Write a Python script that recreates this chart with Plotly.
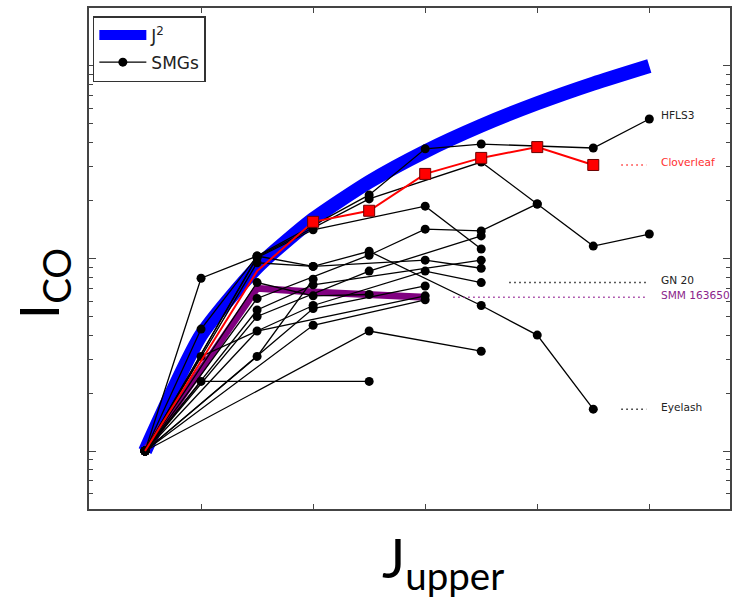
import math
import plotly.graph_objects as go

# Thermal J^2 reference curve (I_CO normalised to CO(1-0))
J_model = [1, 2, 3, 4, 5, 6, 7, 8, 9, 10]
I_model = [1, 4, 9, 16, 25, 36, 49, 64, 81, 100]

# Named sources
hfls3_J = [1, 2, 3, 5, 6, 7, 9, 10]
hfls3_I = [1.0, 4.3, 10.3, 21.4, 37.1, 39.3, 37.5, 53.0]
clover_J = [1, 3, 4, 5, 6, 7, 8, 9]
clover_I = [1.0, 8.6, 15.5, 17.7, 27.5, 33.3, 37.9, 30.6]
clover_marker = [False, False, True, True, True, True, True, True]
smm_J = [1, 3, 4, 5, 6]
smm_I = [1.0, 7.0, 6.7, 6.5, 6.3]
gn20_J = [1, 2, 4, 6, 7]
gn20_I = [1.0, 3.1, 5.7, 8.6, 7.5]
eyelash_J = [1, 3, 4, 5, 7, 8, 9]
eyelash_I = [1.0, 9.5, 9.1, 10.9, 5.7, 4.0, 1.65]

# Other SMGs
smg_a_J = [1, 3, 5, 7, 8, 9, 10]
smg_a_I = [1.0, 10.2, 20.4, 31.7, 19.2, 11.6, 13.4]
smg_b_J = [1, 2, 5]
smg_b_I = [1.0, 2.3, 2.3]
smg_c_J = [1, 5, 7]
smg_c_I = [1.0, 4.2, 3.3]
smg_d_J = [1, 2, 3, 4, 6, 7]
smg_d_I = [1.0, 7.9, 10.3, 9.1, 9.8, 8.9]
smg_e_J = [1, 3, 5, 6, 7, 8]
smg_e_I = [1.0, 6.2, 10.4, 14.2, 13.9, 19.2]
smg_f_J = [1, 4, 6]
smg_f_I = [1.0, 4.5, 6.1]
smg_g_J = [1, 3, 4, 7]
smg_g_I = [1.0, 5.4, 7.3, 9.8]
smg_h_J = [1, 3, 5, 7]
smg_h_I = [1.0, 5.0, 8.6, 13.1]
smg_i_J = [1, 4, 6]
smg_i_I = [1.0, 5.5, 7.2]
smg_j_J = [1, 3, 6]
smg_j_I = [1.0, 4.2, 6.4]
smg_k_J = [1, 3, 4]
smg_k_I = [1.0, 3.1, 7.8]
smg_l_J = [1, 3, 4, 5]
smg_l_I = [1.0, 7.5, 6.4, 6.5]
smg_m_J = [1, 3, 4, 6, 7]
smg_m_I = [1.0, 10.1, 14.1, 18.7, 11.2]

x_ticks = [2, 4, 6, 8, 10]
y_major = [1, 10, 100]
y_minor = [0.6, 0.7, 0.8, 0.9, 2, 3, 4, 5, 6, 7, 8, 9,
           20, 30, 40, 50, 60, 70, 80, 90]

fig = go.Figure()

# J^2 band
fig.add_trace(go.Scatter(
    x=J_model, y=I_model, mode="lines", name="J<sup>2</sup>",
    line=dict(color="#0000ff", width=14, shape="spline", smoothing=0.6),
    legendgroup="model", hoverinfo="skip"))

# SMM 163650 (thick purple, no markers)
fig.add_trace(go.Scatter(
    x=smm_J, y=smm_I, mode="lines", showlegend=False,
    line=dict(color="#800080", width=7)))

black_series = [
    (hfls3_J, hfls3_I), (smg_a_J, smg_a_I), (gn20_J, gn20_I),
    (eyelash_J, eyelash_I), (smg_b_J, smg_b_I), (smg_c_J, smg_c_I),
    (smg_d_J, smg_d_I), (smg_e_J, smg_e_I), (smg_f_J, smg_f_I),
    (smg_g_J, smg_g_I), (smg_h_J, smg_h_I), (smg_i_J, smg_i_I),
    (smg_j_J, smg_j_I), (smg_k_J, smg_k_I), (smg_l_J, smg_l_I),
    (smg_m_J, smg_m_I),
]
for i, (jx, iy) in enumerate(black_series):
    fig.add_trace(go.Scatter(
        x=jx, y=iy, mode="lines+markers", name="SMGs",
        showlegend=(i == 0), legendgroup="smg",
        line=dict(color="black", width=1.3),
        marker=dict(color="black", size=9, line=dict(width=0))))

# Cloverleaf: red line through every transition, squares on the high-J ones
fig.add_trace(go.Scatter(
    x=clover_J, y=clover_I, mode="lines", showlegend=False,
    line=dict(color="#ff0000", width=2)))
fig.add_trace(go.Scatter(
    x=[j for j, m in zip(clover_J, clover_marker) if m],
    y=[v for v, m in zip(clover_I, clover_marker) if m],
    mode="markers", showlegend=False,
    marker=dict(symbol="square", color="#ff0000", size=11, opacity=1,
                line=dict(color="#6a0000", width=1))))

# Dotted leaders from the last measured line to the source labels
leader_end = 9.95
label_x = 10.18
leaders = [
    (clover_J, clover_I, "#ff3030"),
    (gn20_J, gn20_I, "#222222"),
    (smm_J, smm_I, "#9b309b"),
    (eyelash_J, eyelash_I, "#222222"),
]
for jx, iy, col in leaders:
    fig.add_trace(go.Scatter(
        x=[jx[-1] + 0.5, leader_end], y=[iy[-1], iy[-1]], mode="lines",
        showlegend=False, hoverinfo="skip",
        line=dict(color=col, width=1.5, dash="1.5px,3.5px")))

labels = [
    ("HFLS3", hfls3_I[-1], "#222222", 4),
    ("Cloverleaf", clover_I[-1], "#ff3030", 3),
    ("GN 20", gn20_I[-1], "#222222", 3),
    ("SMM 163650", smm_I[-1], "#8b1f8b", 2),
    ("Eyelash", eyelash_I[-1], "#222222", 2),
]
annotations = []
for text, yv, col, ys in labels:
    annotations.append(dict(
        x=label_x, y=math.log10(yv), yref="y", xref="x", text=text,
        showarrow=False, xanchor="left", yanchor="middle", yshift=ys,
        font=dict(family="DejaVu Sans", size=10.6, color=col)))

# Axis titles
annotations.append(dict(
    x=-0.073, y=0.449, xref="paper", yref="paper", text="I<sub>CO</sub>",
    showarrow=False, textangle=-90, xanchor="center", yanchor="middle",
    font=dict(family="Lato", size=55, color="black")))
annotations.append(dict(
    x=0.552, y=-0.104, xref="paper", yref="paper", text="J<sub>upper</sub>",
    showarrow=False, xanchor="center", yanchor="middle",
    font=dict(family="Lato", size=55, color="black")))

axis_common = dict(
    showgrid=False, zeroline=False, showticklabels=False,
    showline=True, linecolor="#444444", linewidth=1.5, mirror="ticks",
    ticks="inside", tickcolor="#444444", tickwidth=1)

fig.update_layout(
    width=736, height=607,
    margin=dict(l=89, r=4, t=8, b=98),
    paper_bgcolor="white", plot_bgcolor="white",
    showlegend=True,
    legend=dict(x=0.006, y=0.984, xanchor="left", yanchor="top",
                bgcolor="white", bordercolor="#333333", borderwidth=1.5,
                traceorder="grouped", tracegroupgap=2, itemwidth=47,
                font=dict(family="DejaVu Sans", size=17, color="#222222")),
    xaxis=dict(range=[0, 11.44], tickvals=x_ticks, ticklen=5, **axis_common),
    yaxis=dict(type="log", range=[-0.301, 2.301], tickvals=y_major, ticklen=7,
               minor=dict(tickvals=y_minor, ticks="inside", ticklen=4,
                          tickcolor="#444444", tickwidth=1),
               **axis_common),
    annotations=annotations,
)

fig.write_html("out.html")
